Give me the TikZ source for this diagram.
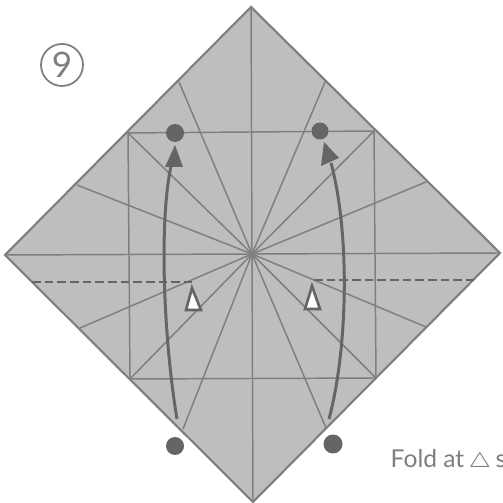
\documentclass[tikz,border=0pt]{standalone}
\usepackage{fontspec}
\setmainfont{Lato}
\definecolor{paper}{HTML}{BEBEBE}
\definecolor{ink}{HTML}{7F7F7F}
\definecolor{dotgrey}{HTML}{656565}
\tikzset{
	crease/.style={ink, line width=0.42pt},
	foldline/.style={dotgrey, line width=0.7pt, dash pattern=on 2.5pt off 1.1pt},
	moveline/.style={dotgrey, line width=0.85pt},
	wedge/.style={draw=dotgrey, line width=0.75pt, fill=white, line join=miter}
}
\begin{document}
\begin{tikzpicture}
	\useasboundingbox (0, 0) rectangle (5.02, 5.03);
	\fill [white] (0, 0) rectangle (5.02, 5.03);
	\coordinate (c) at (2.52, 2.49);
	% sheet
	\draw [ink, fill=paper, line width=0.6pt] (2.51, 4.96) -- (0.05, 2.48) -- (2.53, 0.01) -- (5.00, 2.50) -- cycle;
	% inner square
	\draw [crease] (1.28, 3.70) -- (3.74, 3.72) -- (3.76, 1.25) -- (1.30, 1.24) -- cycle;
	\draw [crease] (0.05, 2.48) -- (5.00, 2.50);
	\draw [crease] (2.51, 4.96) -- (2.53, 0.01);
	% creases from the centre
	\foreach \x/\y in {1.79/4.21, 1.28/3.70, 0.77/3.18, 0.80/1.75, 1.30/1.24, 1.83/0.74, 3.26/0.75, 3.76/1.25, 4.26/1.76, 4.26/3.21, 3.74/3.72, 3.25/4.21}
		\draw [crease] (c) -- (\x, \y);
	% dashed folds
	\draw [foldline] (0.32, 2.21) -- (1.92, 2.21);
	\draw [foldline] (3.14, 2.23) -- (4.74, 2.23);
	\draw [wedge] (1.92, 2.15) -- (1.86, 1.93) -- (2.01, 1.93) -- cycle;
	\draw [wedge] (3.12, 2.17) -- (3.05, 1.94) -- (3.20, 1.94) -- cycle;
	% arrows
	\draw [moveline] (1.77, 0.84) .. controls (1.65, 1.55) and (1.58, 2.75) .. (1.71, 3.37);
	\draw [moveline] (3.29, 0.84) .. controls (3.48, 1.55) and (3.50, 2.70) .. (3.31, 3.40);
	\fill [dotgrey] (1.75, 3.58) -- (1.65, 3.36) -- (1.83, 3.36) -- cycle;
	\fill [dotgrey] (3.24, 3.61) -- (3.21, 3.37) -- (3.39, 3.45) -- cycle;
	% dots
	\fill [dotgrey] (1.75, 3.70) circle (0.09);
	\fill [dotgrey] (3.20, 3.72) circle (0.085);
	\fill [dotgrey] (1.75, 0.57) circle (0.09);
	\fill [dotgrey] (3.33, 0.59) circle (0.095);
	% number and caption
	\node [circle, draw=ink, line width=0.5pt, inner sep=0pt, minimum size=0.42cm, text=ink, font=\fontsize{10}{10}\selectfont] (stepnum) at (0.62, 4.38) {9};
	\node [anchor=base west, inner sep=0pt, text=ink, font=\fontsize{7}{8}\selectfont] (caption) at (3.90, 0.35) {Fold at\,{\fontsize{8}{8}\selectfont$\scriptstyle\triangle$}\,se};
\end{tikzpicture}
\end{document}
